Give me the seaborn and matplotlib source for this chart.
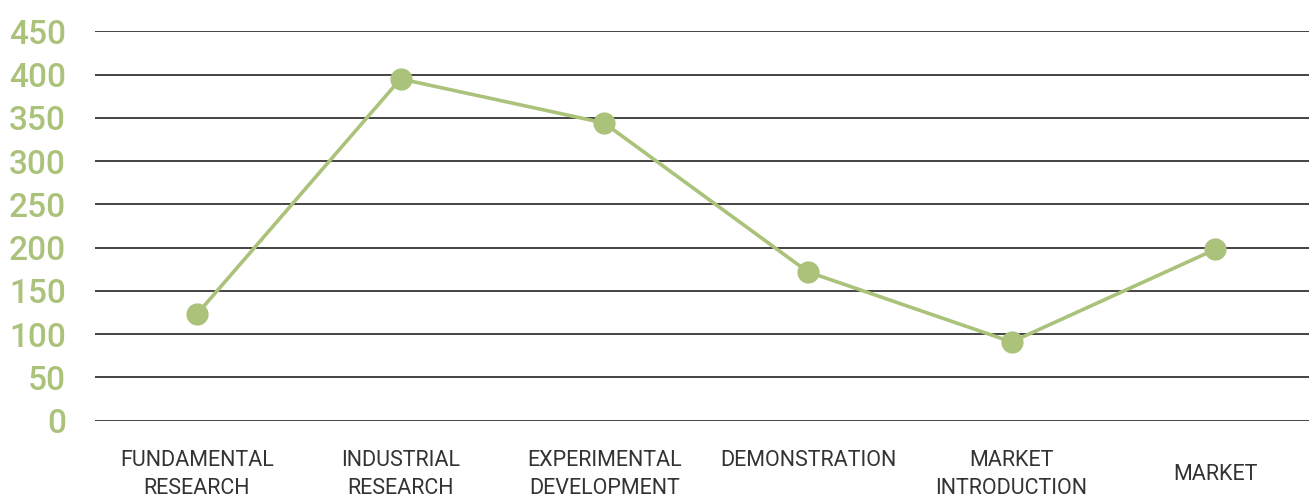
import matplotlib
matplotlib.use("Agg")
import matplotlib.pyplot as plt
import matplotlib.transforms as mtransforms
import seaborn as sns
import pandas as pd

categories = ["FUNDAMENTAL\nRESEARCH", "INDUSTRIAL\nRESEARCH", "EXPERIMENTAL\nDEVELOPMENT",
              "DEMONSTRATION", "MARKET\nINTRODUCTION", "MARKET"]
values = [123, 395, 344, 172, 91, 198]
yticks = [0, 50, 100, 150, 200, 250, 300, 350, 400, 450]

green = "#abc27b"

sns.set_theme(style="white")
plt.rcParams['font.family'] = ['Roboto', 'DejaVu Sans']

df = pd.DataFrame({"stage": categories, "value": values})

fig = plt.figure(figsize=(13.09, 4.98), dpi=100)
ax = fig.add_axes([95/1309, (498-420.7)/498, 1 - 95/1309, (420.7-31.3)/498])

for t in yticks:
    ax.axhline(t, color="#111111", lw=1.1, zorder=0)

sns.lineplot(data=df, x="stage", y="value", ax=ax, color=green, lw=2.6,
             marker="o", markersize=16, markeredgewidth=0, sort=False)

ax.set_xlim(-0.5, 5.46)
ax.set_ylim(0, 450)
ax.set_yticks(yticks)
ax.set_yticklabels([str(t) for t in yticks], color=green, fontsize=24, fontweight="medium")
ax.tick_params(axis="y", length=0, pad=21)
ax.tick_params(axis="x", length=0, pad=21)
ax.set_xticks(range(len(categories)))
ax.set_xticklabels(categories, color="#333333", fontsize=15.5, linespacing=1.45)
ax.set_xlabel("")
ax.set_ylabel("")
for s in ax.spines.values():
    s.set_visible(False)
ax.grid(False)

# single-line "MARKET" label sits centred between the two text lines
lab = ax.get_xticklabels()[-1]
lab.set_transform(lab.get_transform() + mtransforms.ScaledTranslation(0, -0.14, fig.dpi_scale_trans))

fig.savefig("out.png", dpi=100)
